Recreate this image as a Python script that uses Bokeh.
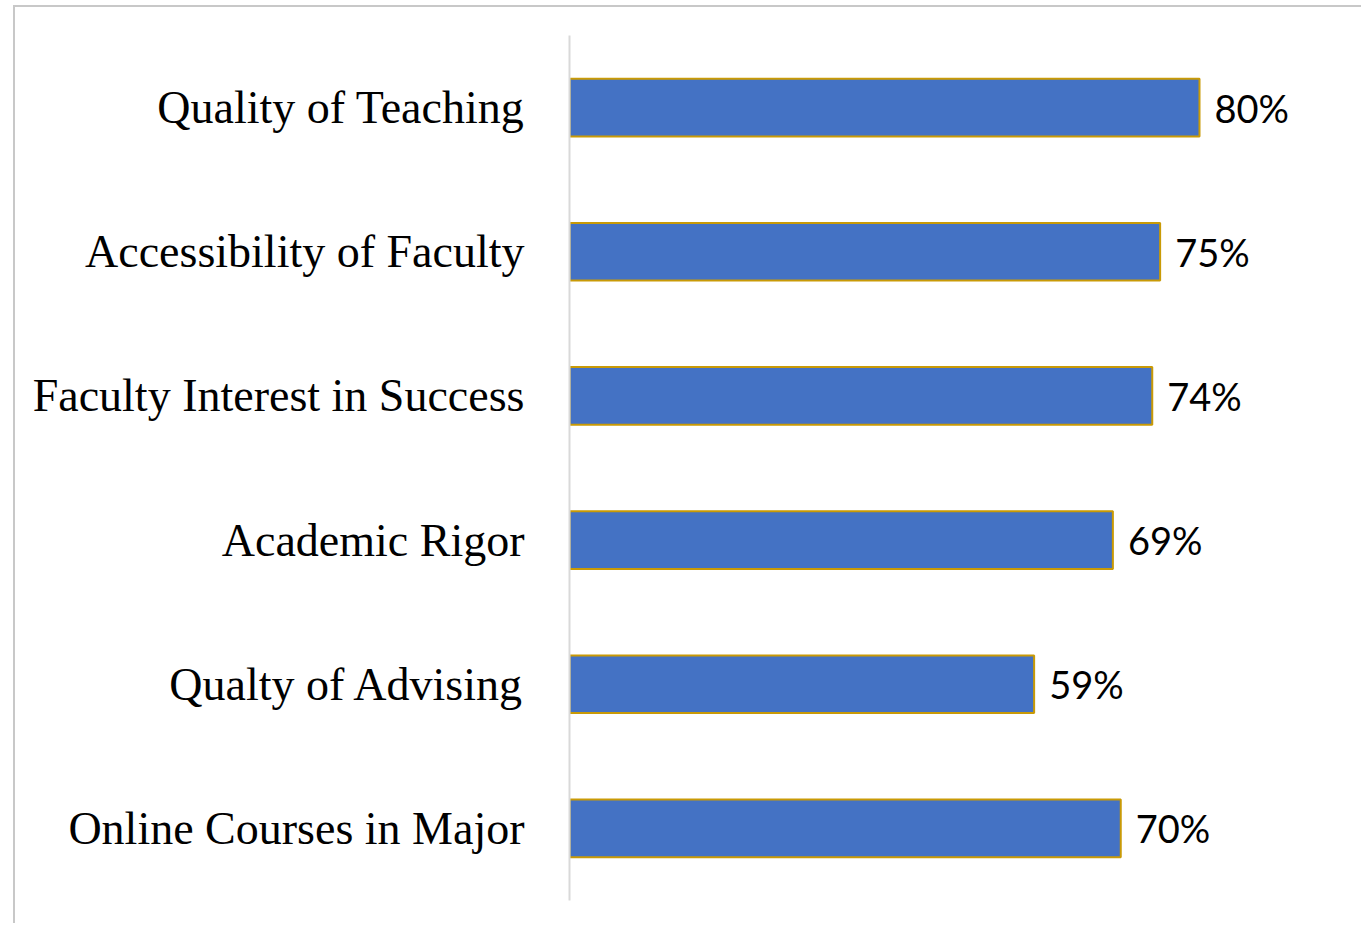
from bokeh.plotting import figure
from bokeh.models import ColumnDataSource, FactorRange, Range1d
from bokeh.core.properties import value
from bokeh.embed import file_html
from bokeh.resources import INLINE

categories = [
    "Quality of Teaching",
    "Accessibility of Faculty",
    "Faculty Interest in Success",
    "Academic Rigor",
    "Qualty of Advising",
    "Online Courses in Major",
]
values = [80, 75, 74, 69, 59, 70]
labels = [f"{v}%" for v in values]

src = ColumnDataSource(dict(cat=categories, val=values, lab=labels))

FW = 792
p = figure(
    y_range=FactorRange(*list(reversed(categories))),
    x_range=Range1d(0, FW / 7.875),
    frame_width=FW,
    frame_height=865,
    min_border_left=554,
    min_border_right=0,
    min_border_top=28,
    min_border_bottom=23,
    output_backend="svg",
    toolbar_location=None,
    background_fill_color="white",
    border_fill_color="white",
    styles={"border-top": "2px solid #c8c8c8", "border-left": "2px solid #c8c8c8",
            "margin-left": "13px", "margin-top": "5px"},
)
p.outline_line_color = None
p.grid.visible = False
p.xaxis.visible = False

p.hbar(y="cat", left=0, right="val", height=0.4, source=src,
       fill_color="#4472C4", line_color="#C99A06", line_width=2)

p.text(x="val", y="cat", text="lab", source=src, x_offset=15,
       text_baseline="middle", text_align="left",
       text_font=value("Lato"), text_font_size="38px", text_color="#000000")

ax = p.yaxis[0]
ax.axis_line_color = "#d9d9d9"
ax.axis_line_width = 2
ax.major_tick_line_color = None
ax.minor_tick_line_color = None
ax.major_tick_out = 0
ax.major_tick_in = 0
ax.major_label_standoff = 45
ax.major_label_text_font = "Liberation Serif"
ax.major_label_text_font_size = "46px"
ax.major_label_text_color = "#000000"

open("out.html", "w").write(file_html(p, INLINE))
